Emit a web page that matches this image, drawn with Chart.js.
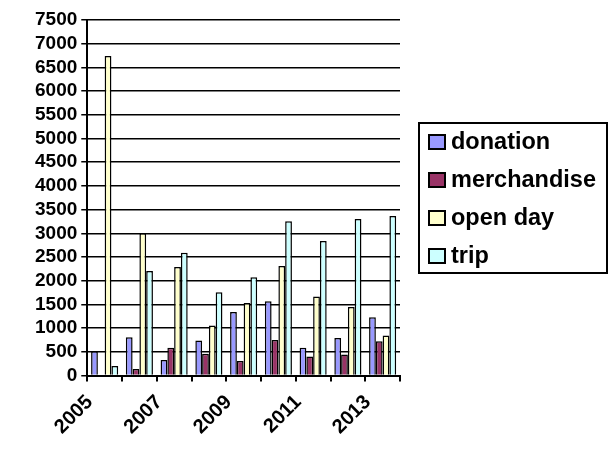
<!DOCTYPE html>
<html>
<head>
<meta charset="utf-8">
<script src="https://cdn.jsdelivr.net/npm/chart.js@4/dist/chart.umd.min.js"></script>
<style>
  html, body { margin: 0; padding: 0; background: #fff; }
  #wrap { width: 614px; height: 454px; position: relative; }
</style>
</head>
<body>
<div id="wrap"><canvas id="grafico"></canvas></div>
<script>
const anos = ['2005', '2006', '2007', '2008', '2009', '2010', '2011', '2012', '2013'];
const donation = [515, 810, 330, 740, 1340, 1570, 585, 795, 1230];
const merchandise = [0, 140, 585, 460, 305, 750, 400, 445, 725];
const openDay = [6740, 3000, 2290, 1055, 1530, 2310, 1670, 1445, 845];
const trip = [200, 2205, 2590, 1755, 2075, 3255, 2840, 3300, 3365];
const yTicks = [0, 500, 1000, 1500, 2000, 2500, 3000, 3500, 4000, 4500, 5000, 5500, 6000, 6500, 7000, 7500];

const cores = ['#9999FF', '#993366', '#FFFFCC', '#CCFFFF'];
const nomes = ['donation', 'merchandise', 'open day', 'trip'];
const series = [donation, merchandise, openDay, trip];

const fonte = "'Liberation Sans', Arial, sans-serif";

// legenda desenhada à mão, com moldura, à direita do gráfico
const legendaCaixa = {
    id: 'legendaCaixa',
    afterDraw(chart) {
        const ctx = chart.ctx;
        const x0 = 419, y0 = 123, w = 188, h = 150;
        ctx.save();
        ctx.fillStyle = '#fff';
        ctx.fillRect(x0, y0, w, h);
        ctx.strokeStyle = '#000';
        ctx.lineWidth = 2;
        ctx.strokeRect(x0, y0, w, h);
        ctx.font = 'bold 23.5px ' + fonte;
        ctx.textBaseline = 'middle';
        chart.data.datasets.forEach((ds, i) => {
            const cy = y0 + 19 + i * 38;
            ctx.fillStyle = ds.backgroundColor;
            ctx.fillRect(429, cy - 7, 16, 14);
            ctx.strokeRect(429, cy - 7, 16, 14);
            ctx.fillStyle = '#000';
            ctx.fillText(ds.label, 451, cy + 1);
        });
        ctx.restore();
    }
};

new Chart('grafico', {
    type: 'bar',
    data: {
        labels: anos,
        datasets: series.map((s, i) => ({
            label: nomes[i],
            data: s,
            backgroundColor: cores[i],
            borderColor: '#000',
            borderWidth: 1.5,
            categoryPercentage: 0.78,
            barPercentage: 1.0
        }))
    },
    options: {
        responsive: true,
        maintainAspectRatio: false,
        animation: false,
        layout: { padding: { left: 31, top: 20, right: 214, bottom: 6 } },
        plugins: {
            tooltip: { enabled: false },
            legend: { display: false }
        },
        scales: {
            x: {
                grid: {
                    drawOnChartArea: false,
                    drawTicks: true,
                    tickLength: 6,
                    color: '#000',
                    lineWidth: 2
                },
                border: { color: '#000', width: 2 },
                ticks: {
                    color: '#000',
                    padding: 9,
                    font: { family: fonte, size: 20, weight: 'bold' },
                    minRotation: 45,
                    maxRotation: 45,
                    autoSkip: false,
                    labelOffset: -15,
                    callback: function (v, i) { return i % 2 === 0 ? anos[i] : ''; }
                }
            },
            y: {
                min: 0,
                max: 7500,
                afterBuildTicks: ax => { ax.ticks = yTicks.map(v => ({ value: v })); },
                grid: { color: '#000', lineWidth: 1.5, tickLength: 6 },
                border: { color: '#000', width: 2 },
                ticks: {
                    color: '#000',
                    padding: 4,
                    autoSkip: false,
                    font: { family: fonte, size: 19, weight: 'bold' },
                    callback: v => String(v)
                }
            }
        }
    },
    plugins: [legendaCaixa]
});
</script>
</body>
</html>
